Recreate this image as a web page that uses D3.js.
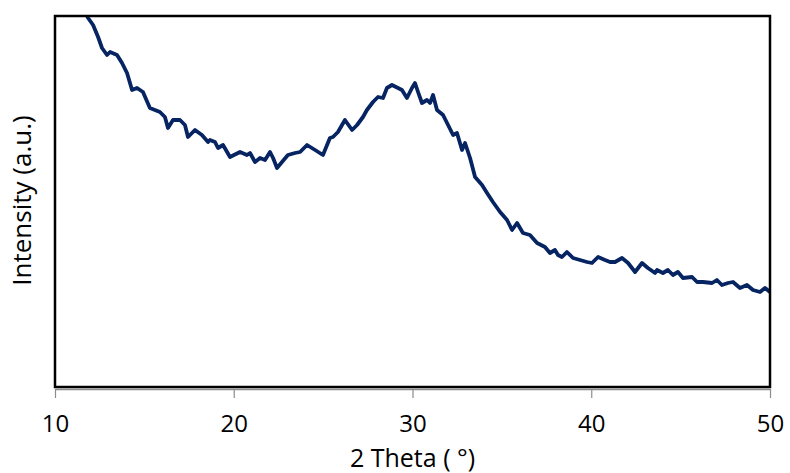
<!DOCTYPE html>
<html>
<head>
<meta charset="utf-8">
<script src="https://cdn.jsdelivr.net/npm/d3@7"></script>
<style>
  body { margin: 0; background: #fff; }
  text { font-family: "Open Sans", "Noto Sans", sans-serif; }
</style>
</head>
<body>
<div id="my_dataviz"></div>
<script>
// 2 theta (deg)
const twoTheta = [11.80, 11.85, 12.13, 12.41, 12.63, 12.91, 13.08, 13.47, 13.75, 14.03, 14.31, 14.59, 14.92, 15.31, 15.87,
  16.15, 16.32, 16.60, 16.99, 17.27, 17.44, 17.83, 18.22, 18.56, 18.67, 18.95, 19.12, 19.40, 19.79, 20.35,
  20.74, 20.91, 21.19, 21.47, 21.75, 22.03, 22.20, 22.42, 22.70, 23.03, 23.43, 23.71, 24.10, 24.55, 24.99,
  25.38, 25.55, 25.83, 26.22, 26.62, 26.90, 27.23, 27.45, 27.79, 28.07, 28.35, 28.57, 28.85, 29.19, 29.41,
  29.69, 29.97, 30.14, 30.31, 30.53, 30.81, 30.98, 31.15, 31.37, 31.71, 31.99, 32.27, 32.49, 32.77, 32.94,
  33.22, 33.50, 33.89, 34.17, 34.50, 34.90, 35.29, 35.57, 35.85, 36.18, 36.57, 36.97, 37.41, 37.69, 37.97,
  38.14, 38.36, 38.64, 38.98, 39.37, 39.76, 40.04, 40.38, 40.77, 41.05, 41.33, 41.72, 42.06, 42.45, 42.84,
  43.17, 43.57, 43.68, 44.01, 44.29, 44.57, 44.85, 45.13, 45.64, 45.92, 46.25, 46.76, 47.03, 47.31, 47.65,
  47.93, 48.32, 48.71, 49.05, 49.44, 49.72, 50.00];

// intensity, arbitrary units
const intensity = [371, 369, 362, 350, 339, 332, 335, 332, 324, 314, 297, 299, 295, 279, 275,
  270, 259, 267, 267, 262, 250, 257, 252, 245, 247, 245, 239, 242, 230, 235,
  232, 234, 225, 229, 227, 235, 229, 219, 225, 232, 234, 235, 242, 237, 232,
  249, 250, 255, 267, 257, 262, 270, 277, 285, 290, 289, 299, 302, 299, 297,
  289, 299, 304, 295, 284, 287, 284, 292, 277, 272, 262, 252, 254, 237, 244,
  229, 210, 202, 194, 185, 175, 167, 157, 164, 154, 152, 144, 140, 134, 137,
  132, 130, 135, 129, 127, 125, 124, 130, 127, 125, 125, 129, 124, 115, 124,
  119, 114, 117, 114, 117, 112, 115, 109, 110, 105, 105, 104, 107, 102, 104,
  105, 99, 102, 97, 95, 99, 95];

const xTicks = [10, 20, 30, 40, 50];

const data = twoTheta.map((t, i) => ({t: t, v: intensity[i]}));

const margin = {top: 16, right: 20, bottom: 86, left: 55},
    width = 790 - margin.left - margin.right,
    height = 473 - margin.top - margin.bottom;

const svg = d3.select("#my_dataviz")
  .append("svg")
    .attr("width", 790)
    .attr("height", 473)
  .append("g")
    .attr("transform", `translate(${margin.left},${margin.top})`);

const x = d3.scaleLinear()
  .domain([10, 50])
  .range([0, width]);

const y = d3.scaleLinear()
  .domain([0, 371])
  .range([height, 0]);

// bottom axis (grey, under the plot frame)
const xAxis = svg.append("g")
  .attr("transform", `translate(0, ${height + 2})`)
  .call(d3.axisBottom(x).tickValues(xTicks).tickSize(9).tickSizeOuter(0));
xAxis.select(".domain").attr("stroke", "#8c8c8c").attr("stroke-width", 1.5);
xAxis.selectAll(".tick line").attr("stroke", "#8c8c8c").attr("stroke-width", 1.2);
xAxis.selectAll(".tick text")
  .attr("fill", "#000")
  .attr("y", 43)
  .attr("dy", 0)
  .style("font-size", "24px");

svg.append("text")
  .attr("text-anchor", "middle")
  .attr("x", width / 2)
  .attr("y", 451)
  .style("font-size", "25px")
  .text("2 Theta ( °)");

svg.append("text")
  .attr("text-anchor", "middle")
  .attr("transform", `translate(-24, ${height / 2 - 1}) rotate(-90)`)
  .style("font-size", "26px")
  .text("Intensity (a.u.)");

// the pattern
svg.append("clipPath").attr("id", "clip")
  .append("rect").attr("width", width).attr("height", height);

svg.append("path")
  .datum(data)
  .attr("clip-path", "url(#clip)")
  .attr("fill", "none")
  .attr("stroke", "#062462")
  .attr("stroke-width", 3.8)
  .attr("stroke-linejoin", "round")
  .attr("d", d3.line().x(d => x(d.t)).y(d => y(d.v)));

// plot frame
svg.append("rect")
  .attr("width", width)
  .attr("height", height)
  .attr("fill", "none")
  .attr("stroke", "#000")
  .attr("stroke-width", 2.5);
</script>
</body>
</html>
